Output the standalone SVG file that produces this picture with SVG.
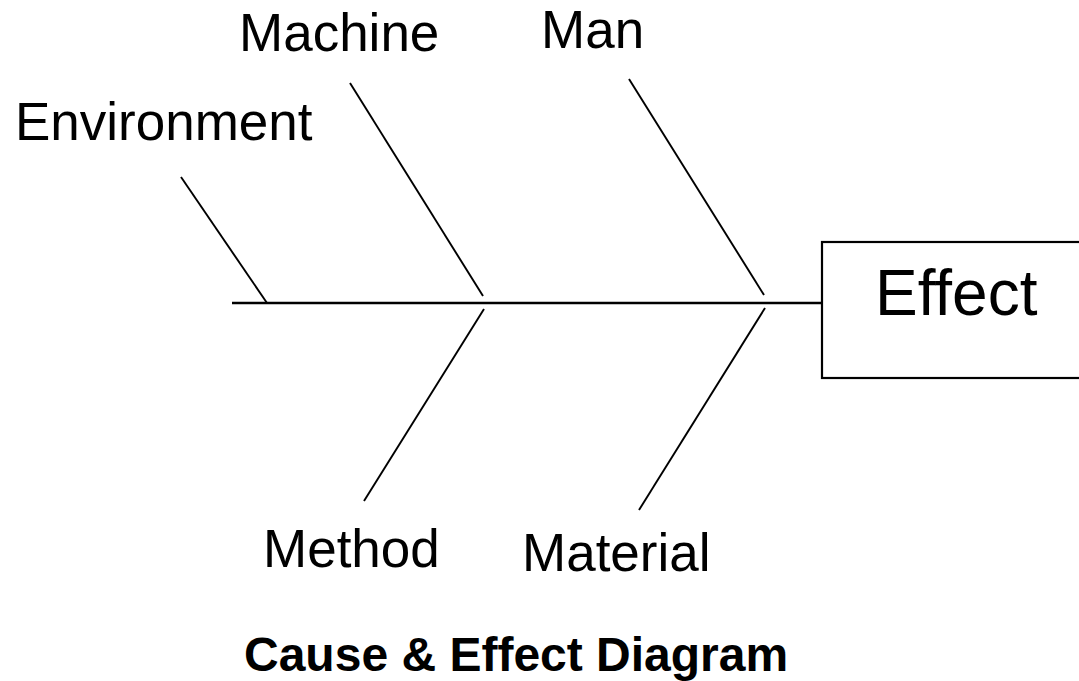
<svg xmlns="http://www.w3.org/2000/svg" width="1079" height="681" viewBox="0 0 1079 681">
  <style>
    .bone { stroke: #000; stroke-width: 1.9; fill: none; stroke-linecap: butt; }
    .spine { stroke: #000; stroke-width: 2.4; fill: none; }
    .label { font-family: "Liberation Sans", Arial, sans-serif; font-size: 53px; fill: #000; }
    .effect { font-family: "Liberation Sans", Arial, sans-serif; font-size: 64px; fill: #000; }
    .title { font-family: "Liberation Sans", Arial, sans-serif; font-size: 48px; font-weight: bold; fill: #000; }
  </style>
  <rect width="1079" height="681" fill="#fff"/>

  <!-- spine and cause bones -->
  <g id="connectors">
    <line class="spine" x1="232" y1="303" x2="822" y2="303"/>
    <line class="bone" x1="181" y1="177" x2="267" y2="303"/>
    <line class="bone" x1="350" y1="83" x2="483" y2="296"/>
    <line class="bone" x1="484" y1="309" x2="364" y2="501"/>
    <line class="bone" x1="629" y1="79" x2="764" y2="295"/>
    <line class="bone" x1="765" y1="308" x2="639" y2="510"/>
  </g>

  <g id="effect">
    <rect x="822" y="242" width="280" height="136" fill="#fff" stroke="#000" stroke-width="2.2"/>
    <text class="effect" x="875" y="315">Effect</text>
  </g>

  <g id="environment"><text class="label" x="15" y="140">Environment</text></g>
  <g id="machine"><text class="label" x="239" y="51">Machine</text></g>
  <g id="man"><text class="label" x="541" y="48">Man</text></g>
  <g id="method"><text class="label" x="263" y="567">Method</text></g>
  <g id="material"><text class="label" x="522" y="571">Material</text></g>

  <g id="title"><text class="title" x="244" y="671">Cause &amp; Effect Diagram</text></g>
</svg>
